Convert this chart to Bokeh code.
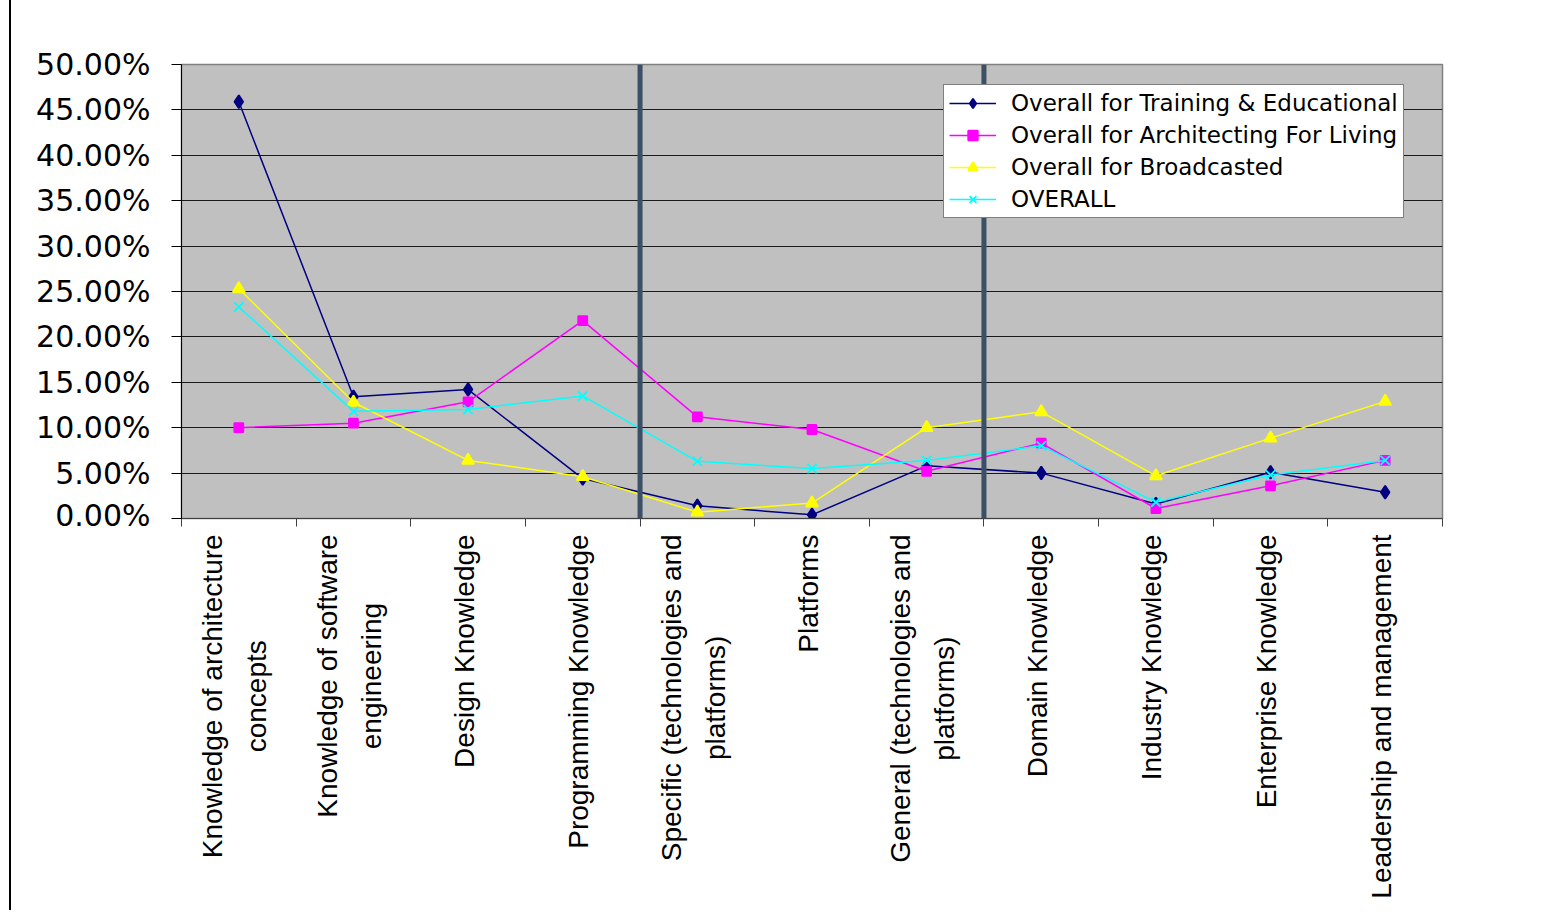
from math import pi

from bokeh.core.properties import value
from bokeh.embed import file_html
from bokeh.layouts import column
from bokeh.models import FixedTicker, PrintfTickFormatter, Range1d
from bokeh.plotting import figure
from bokeh.resources import INLINE

# Knowledge categories along the x axis
categories = [
    "Knowledge of architecture\nconcepts",
    "Knowledge of software\nengineering",
    "Design Knowledge",
    "Programming Knowledge",
    "Specific (technologies and\nplatforms)",
    "Platforms",
    "General (technologies and\nplatforms)",
    "Domain Knowledge",
    "Industry Knowledge",
    "Enterprise Knowledge",
    "Leadership and management",
]

# Share of responses per category (percent)
training = [45.9, 13.4, 14.2, 4.4, 1.4, 0.4, 5.8, 5.0, 1.6, 5.1, 2.9]
architecting = [10.0, 10.5, 12.85, 21.8, 11.2, 9.8, 5.2, 8.3, 1.1, 3.6, 6.4]
broadcasted = [25.3, 12.8, 6.4, 4.6, 0.7, 1.7, 10.0, 11.75, 4.7, 8.85, 12.9]
overall = [23.3, 11.8, 12.0, 13.5, 6.3, 5.5, 6.4, 8.0, 1.8, 4.8, 6.4]

series_names = [
    "Overall for Training & Educational",
    "Overall for Architecting For Living",
    "Overall for Broadcasted",
    "OVERALL",
]

# Group separators sit on category boundaries (after 4th and 7th category)
group_breaks = [4, 7]

y_ticks = [0, 5, 10, 15, 20, 25, 30, 35, 40, 45, 50]

n = len(categories)
xs = [i + 0.5 for i in range(n)]
x_ticks = list(range(n + 1))
x_range = Range1d(0, n)

p = figure(
    width=1530, height=524,
    x_range=x_range, y_range=Range1d(0, 50),
    output_backend="svg", toolbar_location=None,
    min_border_left=170, min_border_right=99,
    min_border_top=56, min_border_bottom=14,
)
p.background_fill_color = "#c0c0c0"
p.border_fill_color = "white"
p.outline_line_color = "#808080"
p.outline_line_width = 1.5

# y axis
p.yaxis.ticker = FixedTicker(ticks=y_ticks)
p.yaxis.formatter = PrintfTickFormatter(format="%.2f%%")
p.yaxis.major_label_text_font = "DejaVu Sans"
p.yaxis.major_label_text_font_size = "30px"
p.yaxis.major_label_text_color = "black"
p.yaxis.major_label_standoff = 21
p.yaxis.axis_line_color = "black"
p.yaxis.major_tick_out = 10
p.yaxis.major_tick_in = 0
p.yaxis.major_tick_line_color = "black"
p.yaxis.minor_tick_line_color = None

# x axis: tick marks between categories, names drawn below
p.xaxis.ticker = FixedTicker(ticks=x_ticks)
p.xaxis.major_label_overrides = {t: "" for t in x_ticks}
p.xaxis.major_label_standoff = 0
p.xaxis.axis_line_color = "#404040"
p.xaxis.major_tick_out = 8
p.xaxis.major_tick_in = 0
p.xaxis.major_tick_line_color = "#404040"
p.xaxis.minor_tick_line_color = None

p.xgrid.grid_line_color = None
p.ygrid.ticker = FixedTicker(ticks=y_ticks)
p.ygrid.grid_line_color = "#1a1a1a"
p.ygrid.grid_line_width = 1.2

styles = [
    (training, "#000080", "diamond", 13),
    (architecting, "#ff00ff", "square", 9),
    (broadcasted, "#ffff00", "triangle", 12),
    (overall, "#00ffff", "x", 13),
]
for (vals, color, marker, size), name in zip(styles, series_names):
    p.line(xs, vals, line_color=color, line_width=1.5, legend_label=name)
    p.scatter(xs, vals, marker=marker, size=size, fill_color=color,
              line_color=color, line_width=1.8, legend_label=name)

# Thick separators between knowledge groups
p.segment(x0=group_breaks, y0=[0] * len(group_breaks),
          x1=group_breaks, y1=[50] * len(group_breaks),
          line_color="#3b4f66", line_width=5)

lg = p.legend[0]
lg.location = (762, 300)
lg.margin = 0
lg.padding = 5
lg.spacing = 6
lg.glyph_width = 47
lg.glyph_height = 24
lg.label_height = 24
lg.label_standoff = 15
lg.label_text_font = "DejaVu Sans"
lg.label_text_font_size = "23px"
lg.label_text_color = "black"
lg.label_text_baseline = "middle"
lg.border_line_color = "black"
lg.border_line_width = 1
lg.background_fill_color = "white"
lg.background_fill_alpha = 1.0

# Category names, rotated, hanging below the axis
q = figure(
    width=1530, height=378,
    x_range=x_range, y_range=Range1d(0, 1),
    output_backend="svg", toolbar_location=None,
    min_border_left=170, min_border_right=99,
    min_border_top=0, min_border_bottom=0,
    x_axis_location=None, y_axis_location=None,
)
q.outline_line_color = None
q.grid.grid_line_color = None
q.background_fill_color = "white"
q.border_fill_color = "white"
q.text(
    x=xs, y=[0.995] * n, text=categories, angle=pi / 2,
    x_offset=-4,
    text_align="center", text_baseline="middle", anchor="center_right",
    text_font=value("Liberation Sans"), text_font_size="28px",
    text_line_height=1.43, text_color="black",
)

layout = column(
    p, q, spacing=0,
    styles={"border-left": "2px solid black", "margin-left": "9px",
            "padding-top": "8px"},
)

open("out.html", "w").write(file_html(layout, INLINE))
